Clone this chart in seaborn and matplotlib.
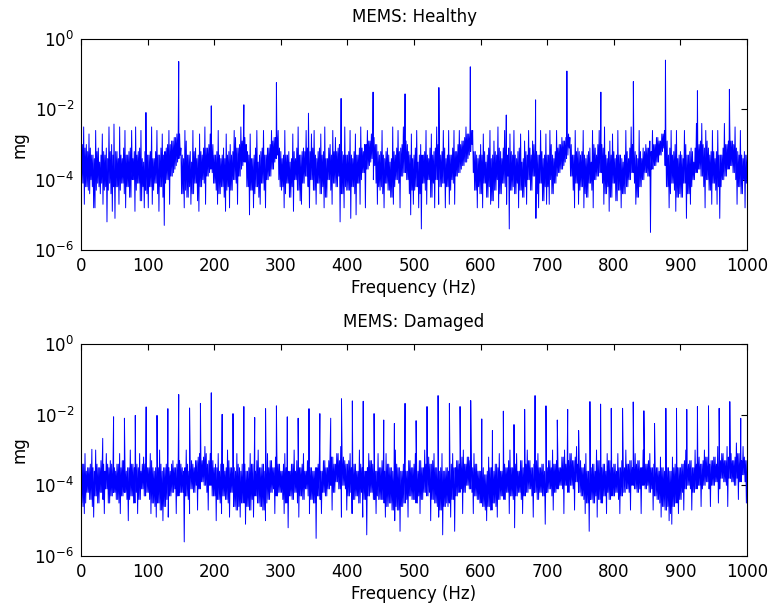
import pandas as pd
import seaborn as sns
import matplotlib.pyplot as plt
from matplotlib.ticker import NullLocator

# spectrum, log10(mg) in tenths.
# "upper" = values at even Hz (0..1000), "lower" = values at odd Hz (1..999)
upper_freq = list(range(0, 1001, 2))
lower_freq = list(range(1, 1000, 2))

healthy_upper = [
    -26, -30, -25, -31, -30, -32, -27, -31, -33, -33, -34, -26, -32, -31, -35, -33, -27, -32, -33, -31, -34, -25, -32, -30, -33,
    -33, -32, -32, -34, -25, -33, -34, -31, -26, -33, -33, -32, -31, -26, -34, -32, -25, -33, -32, -31, -26, -34, -35, -32, -33,
    -33, -33, -32, -25, -34, -34, -32, -26, -33, -33, -31, -27, -33, -32, -31, -30, -26, -30, -29, -29, -28, -28, -27, -26, -27,
    -31, -33, -34, -26, -29, -33, -33, -32, -35, -26, -32, -31, -34, -33, -27, -32, -33, -31, -25, -31, -31, -30, -27, -30, -30,
    -33, -33, -32, -26, -33, -34, -33, -31, -34, -27, -33, -32, -30, -33, -32, -26, -28, -31, -31, -30, -25, -29, -26, -28, -30,
    -32, -33, -27, -34, -34, -33, -31, -26, -35, -33, -32, -31, -26, -33, -33, -31, -31, -30, -26, -29, -28, -28, -27, -26, -31,
    -32, -34, -33, -26, -33, -33, -32, -35, -34, -27, -32, -34, -31, -25, -33, -33, -32, -31, -32, -26, -31, -30, -32, -27, -31,
    -26, -33, -34, -32, -31, -27, -33, -32, -25, -34, -34, -31, -30, -33, -26, -32, -28, -32, -31, -30, -32, -32, -33, -25, -33,
    -33, -32, -26, -33, -34, -32, -27, -33, -33, -31, -25, -31, -32, -30, -30, -26, -29, -29, -27, -28, -28, -30, -30, -32, -33,
    -32, -26, -33, -34, -32, -31, -33, -35, -34, -25, -32, -33, -31, -26, -32, -31, -30, -25, -29, -29, -30, -32, -33, -27, -34,
    -33, -31, -26, -35, -33, -30, -33, -33, -32, -26, -33, -34, -31, -27, -33, -32, -31, -25, -30, -30, -33, -32, -26, -31, -34,
    -33, -26, -33, -33, -31, -26, -32, -32, -30, -26, -30, -29, -29, -28, -25, -27, -27, -26, -26, -26, -32, -32, -33, -34, -33,
    -30, -33, -27, -32, -35, -33, -31, -26, -34, -33, -29, -32, -33, -25, -31, -32, -34, -31, -26, -32, -33, -31, -27, -32, -33,
    -26, -33, -34, -32, -31, -27, -35, -34, -29, -32, -33, -26, -31, -33, -29, -30, -32, -32, -33, -33, -26, -32, -34, -33, -27,
    -33, -33, -26, -30, -33, -34, -32, -26, -31, -30, -30, -28, -29, -29, -28, -27, -27, -28, -30, -33, -33, -26, -32, -31, -32,
    -33, -32, -26, -33, -34, -33, -32, -31, -35, -26, -30, -31, -33, -30, -26, -29, -30, -31, -25, -33, -34, -32, -29, -33, -27,
    -32, -34, -33, -26, -33, -33, -34, -35, -33, -26, -32, -34, -31, -25, -30, -31, -32, -33, -34, -26, -32, -34, -31, -32, -30,
    -31, -31, -29, -32, -26, -30, -30, -28, -28, -29, -29, -27, -27, -26, -26, -29, -33, -31, -26, -33, -32, -30, -26, -34, -33,
    -32, -33, -34, -26, -30, -33, -33, -32, -31, -32, -35, -31, -24, -30, -30, -29, -24, -30, -31, -26, -29, -31, -33, -32, -26,
    -32, -34, -32, -26, -33, -33, -33, -31, -24, -30, -30, -29, -24, -29, -29, -30, -25, -31, -32, -33, -26, -33, -34, -32, -33,
    -33,
]
healthy_lower = [
    -41, -41, -47, -42, -42, -43, -44, -40, -42, -48, -48, -43, -41, -42, -44, -41, -47, -43, -42, -52, -43, -41, -44, -49, -42,
    -51, -42, -42, -47, -43, -41, -41, -44, -48, -42, -42, -45, -45, -40, -40, -49, -43, -41, -41, -46, -46, -42, -48, -43, -44,
    -48, -42, -42, -47, -43, -41, -41, -44, -49, -42, -42, -45, -53, -41, -40, -40, -47, -39, -39, -38, -37, -36, -35, -34, -33,
    -44, -44, -48, -43, -45, -45, -42, -47, -44, -44, -41, -41, -46, -49, -42, -42, -40, -41, -47, -39, -39, -38, -37, -38, -41,
    -41, -43, -47, -44, -44, -42, -42, -45, -49, -43, -42, -48, -43, -43, -40, -40, -41, -47, -39, -39, -37, -36, -35, -35, -42,
    -42, -50, -43, -43, -48, -44, -42, -42, -45, -47, -41, -41, -43, -48, -40, -40, -39, -39, -37, -37, -35, -34, -33, -40, -42,
    -43, -42, -48, -44, -41, -41, -45, -45, -42, -49, -40, -40, -43, -43, -46, -47, -41, -41, -39, -39, -42, -48, -40, -40, -43,
    -43, -47, -41, -41, -44, -44, -42, -48, -45, -45, -40, -40, -43, -47, -41, -41, -42, -42, -39, -52, -44, -44, -48, -42, -43,
    -43, -43, -51, -42, -42, -44, -50, -41, -41, -47, -40, -38, -38, -48, -37, -37, -36, -35, -34, -40, -36, -41, -47, -42, -43,
    -42, -44, -48, -41, -41, -43, -43, -45, -45, -47, -42, -40, -40, -41, -48, -39, -39, -38, -38, -40, -40, -44, -50, -43, -47,
    -43, -42, -42, -48, -44, -54, -41, -41, -43, -47, -40, -40, -45, -45, -41, -48, -40, -40, -47, -42, -42, -41, -41, -48, -42,
    -42, -47, -43, -40, -41, -47, -39, -39, -38, -38, -37, -36, -36, -35, -35, -34, -33, -32, -30, -38, -43, -43, -48, -42, -44,
    -44, -48, -41, -41, -45, -45, -42, -47, -46, -46, -43, -43, -40, -48, -44, -44, -41, -41, -42, -47, -39, -54, -43, -43, -42,
    -44, -44, -41, -48, -43, -43, -45, -45, -42, -47, -40, -40, -43, -43, -39, -39, -51, -44, -48, -41, -41, -46, -46, -42, -47,
    -42, -47, -40, -44, -44, -41, -41, -39, -38, -38, -37, -37, -36, -35, -34, -33, -31, -39, -39, -43, -48, -41, -41, -47, -43,
    -42, -42, -48, -44, -45, -45, -41, -41, -43, -48, -40, -40, -39, -39, -38, -38, -41, -47, -44, -44, -42, -49, -45, -45, -41,
    -41, -46, -46, -43, -43, -48, -44, -44, -44, -42, -42, -40, -40, -38, -38, -41, -47, -45, -45, -42, -42, -40, -40, -38, -38,
    -39, -39, -55, -37, -37, -36, -36, -35, -35, -33, -33, -32, -31, -36, -42, -42, -48, -44, -41, -41, -43, -49, -45, -45, -44,
    -45, -45, -41, -41, -51, -44, -44, -47, -42, -40, -40, -38, -38, -37, -37, -39, -39, -42, -48, -40, -40, -43, -43, -47, -41,
    -41, -43, -47, -42, -51, -42, -40, -40, -39, -39, -37, -37, -36, -36, -38, -38, -40, -47, -42, -42, -44, -44, -40, -48, -41,
]
healthy_peak_freq = [49.5, 97.5, 146.7, 195.6, 244.5, 293.4, 341.5, 390.5, 438.5,
                     486.5, 537.3, 584.5, 638.5, 682.5, 729.5, 780.5, 829.3, 877.5,
                     925.5, 973.5]
healthy_peak_level = [-2.42, -2.09, -0.64, -1.90, -1.87, -1.24, -2.11, -1.69, -1.51,
                      -1.56, -1.38, -0.79, -2.16, -1.73, -0.91, -1.51, -1.21, -0.60,
                      -1.47, -1.43]

damaged_upper = [
    -35, -34, -34, -31, -36, -35, -35, -34, -33, -35, -36, -30, -34, -35, -35, -33, -33, -34, -36, -31, -34, -35, -33, -34, -35,
    -35, -36, -34, -34, -31, -35, -33, -33, -34, -36, -35, -35, -30, -34, -34, -35, -33, -34, -35, -31, -36, -34, -32, -34, -34,
    -35, -35, -31, -33, -35, -36, -35, -34, -35, -30, -34, -36, -35, -35, -34, -31, -35, -36, -34, -33, -35, -35, -34, -32, -33,
    -34, -35, -36, -35, -30, -34, -36, -35, -33, -34, -35, -33, -33, -32, -31, -32, -33, -32, -29, -31, -34, -33, -31, -32, -33,
    -35, -34, -35, -31, -36, -34, -36, -34, -36, -35, -30, -33, -35, -35, -36, -35, -36, -31, -34, -35, -36, -34, -36, -34, -36,
    -36, -35, -31, -34, -34, -36, -36, -33, -30, -35, -35, -34, -34, -36, -36, -31, -35, -33, -33, -35, -35, -32, -30, -34, -34,
    -36, -36, -34, -31, -35, -35, -36, -36, -34, -34, -30, -36, -33, -33, -35, -35, -34, -31, -36, -36, -33, -33, -35, -35, -36,
    -36, -35, -35, -34, -31, -36, -36, -33, -33, -35, -35, -33, -30, -32, -32, -34, -34, -31, -31, -33, -29, -32, -32, -33, -34,
    -34, -33, -31, -35, -35, -34, -34, -36, -36, -30, -34, -35, -35, -36, -36, -35, -31, -33, -33, -34, -34, -36, -36, -31, -35,
    -35, -33, -33, -36, -31, -34, -34, -35, -35, -36, -36, -30, -34, -35, -35, -36, -36, -34, -31, -36, -36, -33, -33, -35, -35,
    -34, -31, -36, -36, -33, -33, -35, -35, -30, -34, -32, -32, -34, -34, -33, -31, -35, -35, -36, -36, -35, -31, -36, -36, -35,
    -35, -36, -36, -34, -31, -35, -35, -33, -33, -34, -34, -32, -30, -34, -34, -32, -32, -33, -33, -35, -31, -34, -34, -36, -36,
    -36, -35, -35, -37, -37, -36, -32, -35, -35, -36, -36, -34, -34, -35, -31, -36, -36, -34, -34, -35, -35, -33, -30, -35, -35,
    -35, -34, -31, -36, -36, -33, -33, -35, -35, -34, -30, -33, -33, -35, -35, -34, -34, -33, -31, -35, -35, -34, -34, -36, -35,
    -35, -33, -33, -35, -30, -34, -34, -33, -33, -35, -35, -32, -32, -30, -34, -33, -33, -31, -31, -33, -33, -32, -29, -34, -34,
    -33, -35, -35, -34, -31, -36, -36, -35, -35, -34, -34, -36, -30, -33, -33, -35, -35, -34, -34, -36, -31, -33, -33, -35, -35,
    -34, -34, -36, -31, -35, -35, -33, -33, -35, -30, -34, -34, -33, -33, -35, -35, -31, -34, -33, -33, -35, -35, -30, -33, -34,
    -34, -33, -31, -35, -35, -34, -34, -35, -35, -36, -32, -35, -35, -36, -36, -35, -35, -36, -36, -32, -35, -34, -34, -35, -35,
    -35, -34, -34, -33, -30, -34, -34, -33, -33, -35, -35, -30, -34, -32, -32, -34, -34, -33, -30, -32, -32, -34, -34, -33, -33,
    -32, -32, -34, -29, -33, -33, -31, -31, -33, -33, -29, -32, -31, -31, -33, -33, -32, -28, -31, -31, -33, -33, -29, -32, -33,
    -33,
]
damaged_lower = [
    -45, -46, -48, -45, -42, -42, -44, -44, -46, -49, -43, -43, -45, -45, -42, -42, -44, -48, -41, -41, -45, -45, -43, -43, -42,
    -42, -44, -44, -45, -48, -43, -43, -42, -42, -44, -50, -44, -43, -43, -45, -45, -42, -48, -44, -44, -41, -41, -43, -43, -42,
    -42, -44, -48, -45, -45, -46, -49, -45, -45, -47, -47, -50, -46, -46, -44, -49, -43, -43, -42, -42, -41, -48, -43, -43, -42,
    -42, -42, -56, -43, -43, -44, -48, -41, -41, -42, -42, -40, -47, -41, -41, -39, -39, -40, -40, -42, -47, -40, -40, -43, -43,
    -43, -50, -44, -44, -45, -48, -43, -43, -44, -44, -45, -49, -42, -42, -46, -46, -47, -47, -46, -49, -45, -45, -45, -51, -46,
    -46, -47, -47, -44, -49, -43, -43, -45, -45, -46, -46, -47, -47, -50, -45, -44, -44, -42, -42, -41, -48, -43, -43, -42, -42,
    -42, -44, -48, -45, -45, -52, -43, -43, -44, -44, -42, -42, -45, -49, -43, -43, -44, -44, -41, -41, -43, -48, -44, -44, -45,
    -45, -55, -43, -43, -44, -48, -42, -42, -43, -43, -41, -41, -40, -47, -42, -42, -39, -39, -41, -41, -49, -40, -40, -41, -47,
    -43, -43, -42, -48, -44, -44, -43, -43, -45, -45, -42, -49, -44, -44, -54, -43, -43, -42, -42, -44, -44, -48, -43, -44, -44,
    -44, -44, -45, -49, -46, -46, -45, -45, -47, -47, -50, -46, -47, -47, -53, -46, -46, -45, -45, -44, -49, -43, -43, -44, -44,
    -44, -45, -45, -43, -48, -44, -44, -42, -42, -43, -43, -42, -50, -44, -44, -45, -45, -46, -49, -47, -47, -54, -46, -46, -45,
    -46, -45, -49, -44, -44, -53, -43, -43, -42, -42, -41, -48, -42, -42, -40, -40, -41, -41, -42, -48, -43, -43, -44, -44, -45,
    -45, -46, -46, -47, -50, -46, -46, -47, -47, -45, -45, -46, -49, -44, -44, -43, -43, -44, -44, -42, -42, -48, -43, -43, -44,
    -52, -43, -43, -42, -42, -44, -48, -43, -43, -42, -42, -41, -41, -43, -49, -42, -42, -44, -44, -42, -42, -43, -43, -51, -42,
    -42, -41, -41, -43, -47, -42, -42, -41, -41, -40, -40, -41, -48, -40, -40, -42, -42, -40, -40, -41, -47, -39, -39, -42, -42,
    -43, -43, -44, -48, -45, -45, -53, -44, -44, -45, -45, -43, -49, -44, -44, -45, -45, -43, -43, -48, -42, -44, -44, -43, -43,
    -43, -42, -42, -44, -48, -43, -43, -42, -42, -41, -41, -42, -47, -40, -40, -41, -41, -42, -42, -41, -48, -40, -40, -41, -41,
    -40, -42, -42, -41, -47, -43, -43, -44, -44, -45, -49, -46, -46, -47, -47, -46, -50, -48, -51, -46, -46, -45, -45, -48, -44,
    -44, -42, -47, -41, -41, -40, -40, -41, -47, -42, -42, -41, -41, -40, -40, -46, -41, -40, -40, -39, -39, -41, -46, -40, -40,
    -40, -39, -39, -45, -41, -38, -38, -39, -39, -40, -46, -38, -38, -39, -39, -40, -40, -38, -44, -39, -39, -37, -37, -39, -45,
]
damaged_peak_freq = [16.3, 32.6, 48.9, 65.2, 81.5, 97.8, 114.1, 130.4, 146.7, 163.0,
                     179.3, 195.6, 211.9, 228.2, 244.5, 260.8, 277.1, 293.4, 309.7, 326.0,
                     342.3, 358.6, 374.9, 391.1, 407.4, 423.7, 440.0, 454.5, 470.5, 486.5,
                     503.1, 519.5, 536.1, 553.1, 569.1, 585.1, 601.7, 617.7, 634.1, 650.1,
                     666.1, 681.7, 698.1, 715.1, 730.7, 747.1, 764.1, 780.1, 796.1, 813.1,
                     829.1, 845.1, 861.1, 878.1, 894.1, 909.5, 925.5, 942.1, 958.1, 974.1,
                     990.5]
damaged_peak_level = [-2.98, -2.67, -2.06, -2.10, -2.02, -1.78, -2.02, -1.83, -1.43, -1.81,
                      -1.68, -1.38, -1.99, -1.97, -1.77, -2.08, -1.83, -1.75, -2.06, -2.10,
                      -1.83, -1.97, -2.10, -1.55, -1.61, -1.62, -1.97, -2.15, -2.25, -1.68,
                      -2.17, -1.77, -1.46, -1.68, -1.77, -1.60, -2.12, -2.45, -1.90, -2.28,
                      -1.85, -1.46, -1.75, -2.15, -1.85, -2.45, -1.63, -1.70, -1.82, -1.82,
                      -1.64, -1.89, -2.25, -1.82, -1.82, -1.85, -1.77, -1.75, -1.82, -1.63,
                      -2.10]

titles = ["MEMS: Healthy", "MEMS: Damaged"]
x_ticks = list(range(0, 1001, 100))
y_ticks = [1e-6, 1e-4, 1e-2, 1e0]
y_tick_labels = [r"$\mathregular{10^{-6}}$", r"$\mathregular{10^{-4}}$",
                 r"$\mathregular{10^{-2}}$", r"$\mathregular{10^{0}}$"]


def make_frame(upper, lower, peak_freq, peak_level):
    df = pd.DataFrame({
        "freq": upper_freq + lower_freq + list(peak_freq),
        "mg": [10 ** (v / 10) for v in upper + lower] + [10 ** v for v in peak_level],
    })
    return df.sort_values("freq", kind="stable").reset_index(drop=True)


sns.set_theme(style="white")
plt.rcParams["font.family"] = ["DejaVu Sans"]
plt.rcParams["mathtext.fontset"] = "dejavusans"
plt.rcParams["text.color"] = "black"
plt.rcParams["axes.labelcolor"] = "black"

fig = plt.figure(figsize=(7.7, 6.15), dpi=100)
ax_top = fig.add_axes([0.1052, 0.5935, 0.865, 0.343])
ax_bot = fig.add_axes([0.1052, 0.0959, 0.865, 0.3447])

frames = [make_frame(healthy_upper, healthy_lower, healthy_peak_freq, healthy_peak_level),
          make_frame(damaged_upper, damaged_lower, damaged_peak_freq, damaged_peak_level)]

for ax, df, title in zip([ax_top, ax_bot], frames, titles):
    ax.set_yscale("log")
    sns.lineplot(data=df, x="freq", y="mg", ax=ax, color="#0000ff",
                 linewidth=0.7, estimator=None, sort=False)
    ax.set_xlim(0, 1000)
    ax.set_ylim(1e-6, 1)
    ax.set_xticks(x_ticks)
    ax.set_yticks(y_ticks)
    ax.set_yticklabels(y_tick_labels)
    ax.yaxis.set_minor_locator(NullLocator())
    ax.tick_params(direction="in", top=True, right=True, length=4, width=0.8,
                   labelsize=12, colors="black", pad=5)
    for s in ax.spines.values():
        s.set_color("black")
        s.set_linewidth(0.8)
    ax.set_title(title, fontsize=12, pad=12, color="black")
    ax.set_xlabel("Frequency (Hz)", fontsize=12, labelpad=3)
    ax.set_ylabel("mg", fontsize=12, labelpad=4)

fig.savefig("out.png", dpi=100)
